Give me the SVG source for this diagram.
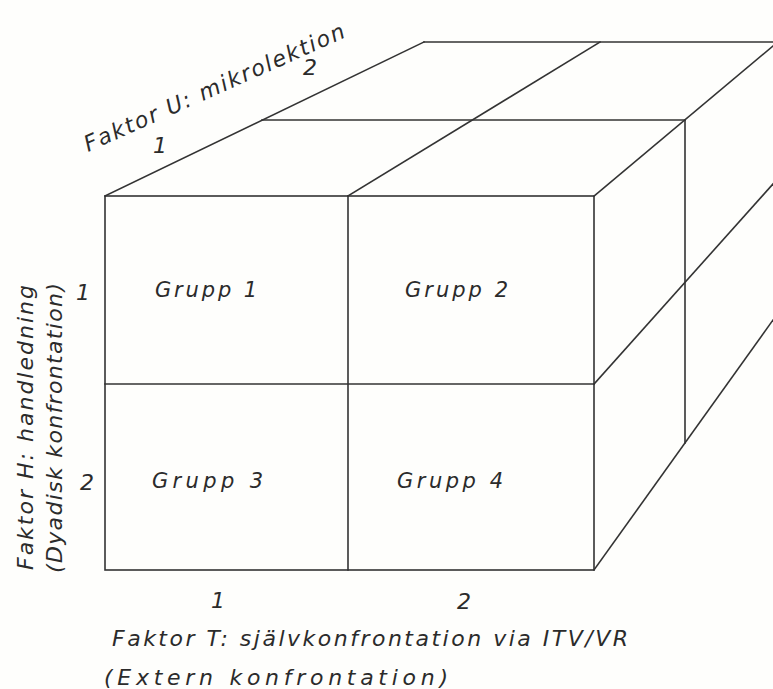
<svg xmlns="http://www.w3.org/2000/svg" width="773" height="689" viewBox="0 0 773 689">
  <style>
    .ln { stroke: #333; stroke-width: 1.6; fill: none; stroke-linecap: square; }
    .t { font-family: "DejaVu Sans", "Liberation Sans", sans-serif; font-style: italic; font-size: 21px; fill: #2b2b2b; }
    .a { font-family: "DejaVu Sans", "Liberation Sans", sans-serif; font-style: italic; font-size: 22px; fill: #2b2b2b; }
    .n { font-family: "DejaVu Sans", "Liberation Sans", sans-serif; font-style: italic; font-size: 22px; fill: #2b2b2b; text-anchor: middle; }
  </style>
  <rect x="0" y="0" width="773" height="689" fill="#fefefc"/>

  <g id="cube" class="ln">
    <rect x="105" y="196" width="489" height="374"/>
    <line x1="105" y1="196" x2="424" y2="42"/>
    <line x1="348" y1="196" x2="600" y2="42"/>
    <line x1="594" y1="196" x2="773" y2="46"/>
    <line x1="262" y1="120" x2="685" y2="120"/>
    <line x1="424" y1="42" x2="773" y2="42"/>
    <line x1="685" y1="120" x2="685" y2="443"/>
    <line x1="594" y1="384" x2="773" y2="184"/>
    <line x1="594" y1="570" x2="773" y2="320"/>
  </g>

  <g id="connectors" class="ln">
    <line x1="348" y1="196" x2="348" y2="570"/>
    <line x1="105" y1="384" x2="594" y2="384"/>
  </g>

  <g id="grupp1"><text class="t" x="155" y="297" textLength="102" lengthAdjust="spacing">Grupp 1</text></g>
  <g id="grupp2"><text class="t" x="405" y="297" textLength="103" lengthAdjust="spacing">Grupp 2</text></g>
  <g id="grupp3"><text class="t" x="152" y="488" textLength="111" lengthAdjust="spacing">Grupp 3</text></g>
  <g id="grupp4"><text class="t" x="397" y="488" textLength="106" lengthAdjust="spacing">Grupp 4</text></g>

  <g id="faktor-u">
    <text class="a" transform="translate(88,152) rotate(-24)" x="0" y="0" textLength="283" lengthAdjust="spacing">Faktor U: mikrolektion</text>
    <text class="n" x="160" y="153">1</text>
    <text class="n" x="310" y="75">2</text>
  </g>

  <g id="faktor-h">
    <text class="a" transform="translate(33,570) rotate(-90)" x="0" y="0" textLength="285" lengthAdjust="spacing">Faktor H: handledning</text>
    <text class="a" transform="translate(62,573) rotate(-90)" x="0" y="0" textLength="290" lengthAdjust="spacing">(Dyadisk konfrontation)</text>
    <text class="n" x="83" y="300">1</text>
    <text class="n" x="87" y="490">2</text>
  </g>

  <g id="faktor-t">
    <text class="n" x="218" y="608">1</text>
    <text class="n" x="464" y="609">2</text>
    <text class="a" x="112" y="646" textLength="516" lengthAdjust="spacing">Faktor T: självkonfrontation via ITV/VR</text>
    <text class="a" x="104" y="685" textLength="344" lengthAdjust="spacing">(Extern konfrontation)</text>
  </g>
</svg>
